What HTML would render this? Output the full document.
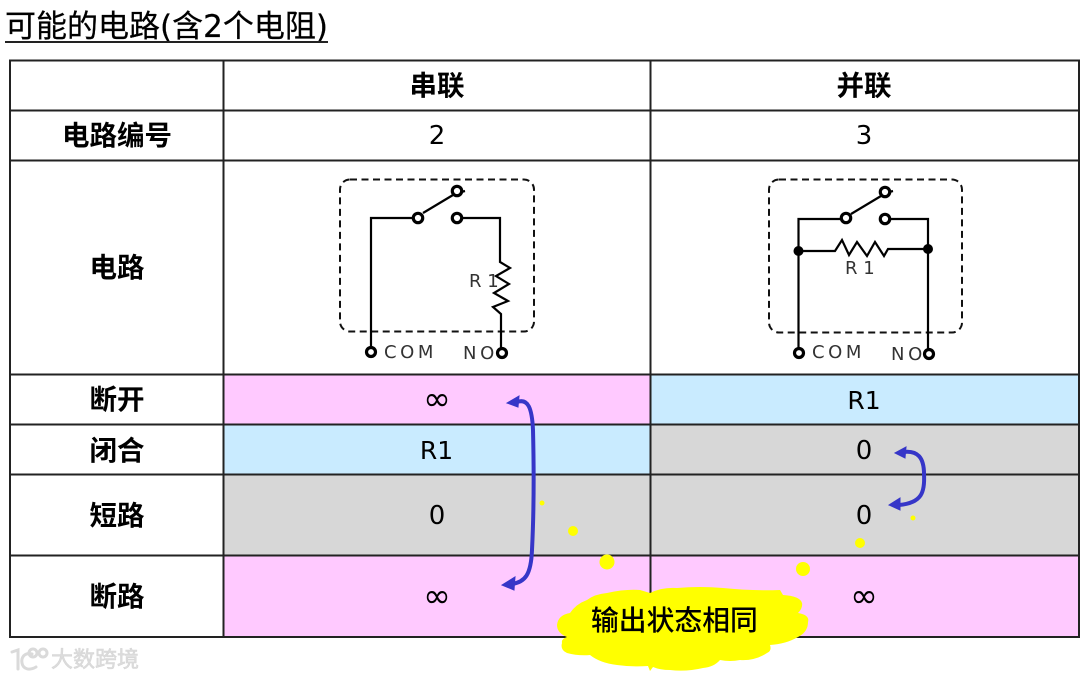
<!DOCTYPE html>
<html><head><meta charset="utf-8">
<style>
html,body{margin:0;padding:0;background:#fff;width:1080px;height:680px;overflow:hidden}
svg{display:block}
text{font-family:"DejaVu Sans","Noto Sans CJK SC",sans-serif;fill:#000}
.h{font-size:27.5px;font-weight:700;text-anchor:middle;font-family:"Noto Sans CJK SC",sans-serif}
.v{font-size:26px;text-anchor:middle;font-family:"DejaVu Sans","Noto Sans CJK SC",sans-serif}
.i{font-size:33px;text-anchor:middle;font-family:"DejaVu Sans",sans-serif}
.c{font-size:18px;fill:#333;letter-spacing:3.6px}
.r{font-size:18px;fill:#333}
.w{fill:none;stroke:#000;stroke-width:2.200}
.o{fill:#fff;stroke:#000;stroke-width:3.200}
</style></head><body>
<svg width="1080" height="680" viewBox="0 0 1080 680" xmlns="http://www.w3.org/2000/svg">
<rect width="1080" height="680" fill="#fff"/>
<text x="5" y="37" font-size="31" stroke="#000" stroke-width=".25">可能的电路(含2个电阻)</text>
<rect x="5" y="41" width="323" height="2" fill="#222"/>

<rect x="223" y="374" width="428" height="50" fill="#ffc9ff"/>
<rect x="651" y="374" width="428" height="50" fill="#c9ebff"/>
<rect x="223" y="424" width="428" height="50" fill="#c9ebff"/>
<rect x="651" y="424" width="428" height="131" fill="#d7d7d7"/>
<rect x="223" y="474" width="428" height="81" fill="#d7d7d7"/>
<rect x="223" y="555" width="856" height="82" fill="#ffc9ff"/>

<g stroke="#222" stroke-width="2" fill="none">
<rect x="10" y="60.500" width="1069" height="576.500"/>
<path d="M10 110.500H1079M10 160.500H1079M10 374.500H1079M10 424.500H1079M10 474.500H1079M10 555.500H1079"/>
<path d="M223.500 60V637M650.500 60V637"/>
</g>

<text class="h" x="437" y="95">串联</text>
<text class="h" x="864" y="95">并联</text>
<text class="h" x="117" y="145">电路编号</text>
<text class="v" x="437" y="144">2</text>
<text class="v" x="864" y="144">3</text>
<text class="h" x="117" y="277">电路</text>
<text class="h" x="117" y="409">断开</text>
<text class="i" x="437" y="410">∞</text>
<text class="v" x="864" y="409" font-size="25" style="font-size:25px">R1</text>
<text class="h" x="117" y="460">闭合</text>
<text class="v" x="436.500" y="459" style="font-size:25px">R1</text>
<text class="v" x="864" y="459">0</text>
<text class="h" x="117" y="525">短路</text>
<text class="v" x="437" y="524">0</text>
<text class="v" x="864" y="524">0</text>
<text class="h" x="117" y="606">断路</text>
<text class="i" x="437" y="607">∞</text>
<text class="i" x="864" y="607">∞</text>

<!-- series circuit -->
<rect x="340" y="179.500" width="194" height="152" rx="10" fill="none" stroke="#111" stroke-width="2" stroke-dasharray="7 4.500"/>
<path class="w" d="M371 352V218H413M423 213L453 195M461 192L465 191M462 218H500V262L510 268L496 276L509 284L494 293L508 301L493 307L501 314V352"/>
<circle class="o" cx="418" cy="218" r="4.700"/><circle class="o" cx="457" cy="191" r="4.700"/><circle class="o" cx="457" cy="218" r="4.700"/>
<circle class="o" cx="371" cy="352" r="4.500"/><circle class="o" cx="502" cy="353" r="4.500"/>
<text class="r" x="469" y="287">R 1</text>
<text class="c" x="384" y="358">COM</text>
<text class="c" x="463" y="359">NO</text>

<!-- parallel circuit -->
<rect x="769" y="179.500" width="193" height="153" rx="10" fill="none" stroke="#111" stroke-width="2" stroke-dasharray="7 4.500"/>
<path class="w" d="M798.500 352V219H841M851 214L881 196M889 192L893 191M890 219H928V352M798.500 251H835L842 240L849 255L857 242L867 256L875 242L884 256L888 249H928"/>
<circle class="o" cx="846" cy="218" r="4.700"/><circle class="o" cx="885" cy="192" r="4.700"/><circle class="o" cx="885" cy="219" r="4.700"/>
<circle cx="798.500" cy="251" r="5"/><circle cx="928" cy="249" r="5"/>
<circle class="o" cx="799" cy="353" r="4.500"/><circle class="o" cx="929" cy="354" r="4.500"/>
<text class="r" x="845" y="274">R 1</text>
<text class="c" x="812" y="358">COM</text>
<text class="c" x="891" y="360">NO</text>

<!-- arrows -->
<path d="M517 402C528 398 532 408 533 430C534 470 534 510 532 550C531 575 525 582 512 584" fill="none" stroke="#3636c8" stroke-width="4"/>
<path d="M507 403L519 396L518 407Z M502 585L515 577L514 590Z" fill="#3636c8" stroke="#3636c8"/>
<path d="M903 452C918 450 924 458 924 474C925 492 922 503 899 505" fill="none" stroke="#3636c8" stroke-width="4"/>
<path d="M895 453L906 447L905 458Z M889 505L900 498L900 510Z" fill="#3636c8" stroke="#3636c8"/>

<!-- callout -->
<g fill="#ffff00">
<circle cx="542" cy="503" r="2.500"/><circle cx="573" cy="531" r="5"/><circle cx="607" cy="562" r="7.500"/>
<circle cx="913" cy="518" r="2.500"/><circle cx="860" cy="543" r="5"/><circle cx="803" cy="569" r="7"/>
<path d="M557 625Q558 615 570 613Q576 604 587 600Q595 594 607 593Q625 589 640 590L650 593Q662 587 677 588Q700 586 723 588Q752 591 780 590L783 595Q800 596 802 603Q803 608 798 613Q810 615 808 622Q808 632 798 637Q786 644 770 645Q772 651 767 653Q755 661 740 660Q730 662 720 660Q714 667 703 668Q686 672 670 670Q660 670 653 667L650 671L648 666Q632 667 617 665Q600 663 590 655Q578 656 567 653Q560 650 562 643Q561 639 567 637Q557 633 557 625Z"/>
</g>
<text x="591" y="630" font-size="27.800" style="font-family:'Noto Sans CJK SC',sans-serif;font-weight:500">输出状态相同</text>

<!-- watermark -->
<g fill="none" stroke="#dadada" stroke-width="3" stroke-linecap="round">
<path d="M12 652L18 650V669M32 654C24 652 21 658 22 663C23 669 29 671 36 667"/>
<circle cx="33" cy="653" r="4"/><circle cx="43" cy="653" r="4"/>
</g>
<text x="51" y="667" font-size="22" style="font-family:'Noto Sans CJK SC',sans-serif;fill:#dcdcdc;stroke:#d6d6d6;stroke-width:.6">大数跨境</text>
</svg>
</body></html>
